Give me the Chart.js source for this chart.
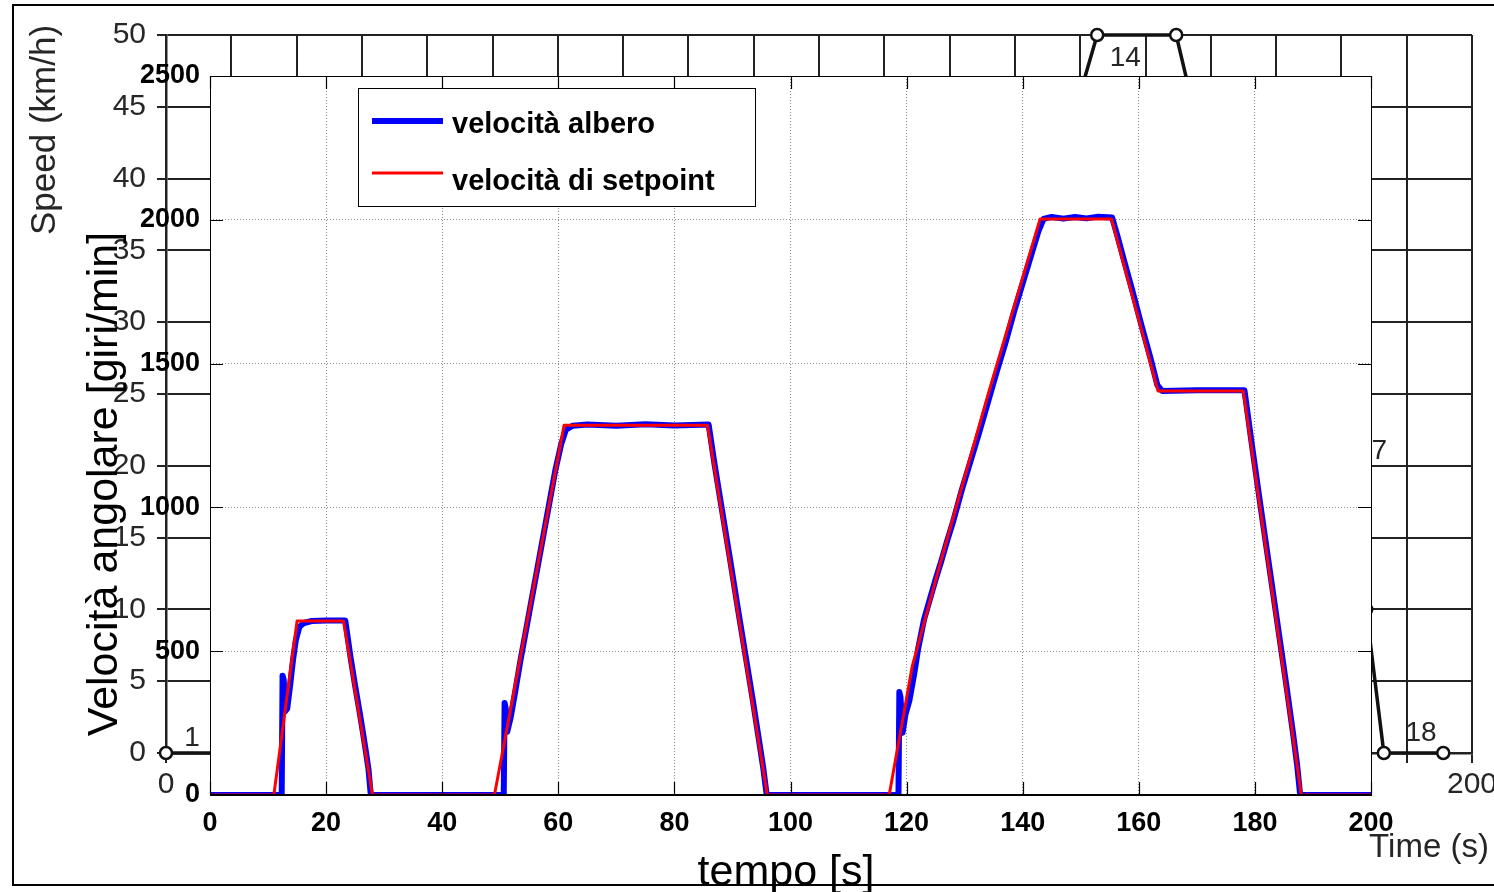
<!DOCTYPE html>
<html><head><meta charset="utf-8">
<script src="https://cdn.jsdelivr.net/npm/chart.js@4.4.1/dist/chart.umd.min.js"></script>
<style>
html,body{margin:0;padding:0;background:#fff;}
#wrap{position:relative;width:1494px;height:892px;overflow:hidden;background:#fff;}
canvas{position:absolute;left:0;top:0;}
#frame{position:absolute;left:12px;top:4px;width:1500px;height:882px;border:2.5px solid #000;box-sizing:border-box;}
</style></head>
<body>
<div id="wrap">
<canvas id="scan" width="1494" height="892"></canvas>
<div id="frame"></div>
<canvas id="main" width="1494" height="892"></canvas>
</div>
<script>
// ---------- background scan: ECE-15 speed cycle ----------
const scanTime  = [0, 11, 15, 23, 25, 28, 49, 54, 56, 61, 85, 93, 96, 117, 122, 124, 133, 142.6, 154.7, 162.5, 176, 178, 183.8, 186.5, 195.6];
const scanSpeed = [0, 0, 15, 15, 10, 0, 0, 15, 15, 32, 32, 10, 0, 0, 15, 15, 35, 50, 50, 35, 35, 32, 10, 0, 0];
const scanTimeLabels = [0, 200];
const scanSegLabels = ['1', '14', '17', '18'];
const scanSegTime   = [4.0, 146.9, 187.0, 192.2];
const scanSegSpeed  = [1.0, 48.4, 21.0, 1.4];

// ---------- overlay: shaft speed ----------
const setpointTime = [0, 11, 15, 23, 28, 49, 61, 85.7, 96, 117, 121, 126, 134, 143, 155.3, 163.3, 178, 188, 200];
const setpointRpm  = [0, 0, 605, 605, 0, 0, 1286, 1286, 0, 0, 450, 820, 1390, 2003, 2003, 1405, 1405, 0, 0];

const shaftTime = [0, 12.35, 12.5, 12.7, 12.9, 13.3, 13.8, 14.3, 14.8, 15.4, 16.2, 17.5, 20, 23.3, 24.2, 25.0, 25.8, 26.4, 26.9, 27.3, 27.7,
  50.6, 50.75, 50.95, 51.2, 51.8, 52.5, 53.5, 54.5, 55.5, 56.5, 57.5, 58.5, 59.5, 60.5, 61.3, 62.5, 65, 70, 75, 80, 85.9,
  86.8, 88, 89.5, 91, 92.5, 93.5, 94.5, 95.3, 95.9,
  118.6, 118.75, 118.95, 119.3, 119.8, 120.5, 121.3, 122, 123, 124, 125, 126, 127, 128, 129.5, 131, 132.5, 134, 135.5, 137, 138.5, 140, 141.5, 142.7, 143.6,
  145, 147, 149, 151, 153, 155.4, 156.3, 157.5, 159, 160.5, 162, 163.2, 164, 170, 178.2,
  179.5, 181, 182.5, 184, 185.5, 186.6, 187.3, 187.8, 200];
const shaftRpm = [0, 0, 415, 400, 290, 300, 380, 470, 540, 585, 598, 605, 607, 607, 480, 380, 285, 210, 145, 90, 0,
  0, 320, 300, 220, 270, 350, 470, 580, 690, 800, 910, 1020, 1130, 1220, 1270, 1284, 1288, 1284, 1289, 1285, 1288,
  1165, 1015, 830, 640, 455, 330, 200, 95, 0,
  0, 358, 340, 216, 280, 330, 420, 510, 610, 680, 750, 815, 885, 950, 1060, 1160, 1260, 1365, 1470, 1570, 1680, 1780, 1880, 1960, 2003,
  2010, 2004, 2010, 2005, 2011, 2008, 1945, 1855, 1745, 1630, 1520, 1425, 1405, 1407, 1407,
  1215, 1000, 790, 580, 370, 210, 100, 0, 0];

const xTicksMain = [0, 20, 40, 60, 80, 100, 120, 140, 160, 180, 200];
const yTicksMain = [0, 500, 1000, 1500, 2000, 2500];

const SANS = "'Liberation Sans', Arial, sans-serif";
const SCANCOL = '#262626';

// ---------------- scan chart ----------------
const scanDeco = {
  id: 'scanDeco',
  afterDraw(chart) {
    const ctx = chart.ctx, xs = chart.scales.x, ys = chart.scales.y;
    ctx.save();
    ctx.fillStyle = SCANCOL;
    ctx.font = '35px ' + SANS;
    ctx.textAlign = 'center';
    ctx.textBaseline = 'middle';
    ctx.save();
    ctx.translate(45, 130);
    ctx.rotate(-Math.PI / 2);
    ctx.fillText('Speed (km/h)', 0, 0);
    ctx.restore();
    ctx.font = '33px ' + SANS;
    ctx.fillText('Time (s)', 1429, 848);
    ctx.font = '28px ' + SANS;
    scanSegLabels.forEach((s, i) => {
      ctx.textAlign = s === '17' ? 'right' : 'center';
      ctx.fillText(s, xs.getPixelForValue(scanSegTime[i]), ys.getPixelForValue(scanSegSpeed[i]));
    });
    ctx.restore();
  }
};

new Chart(document.getElementById('scan'), {
  type: 'line',
  data: { datasets: [{
    data: scanTime.map((t, i) => ({ x: t, y: scanSpeed[i] })),
    borderColor: '#111', borderWidth: 3.5, tension: 0, clip: false,
    pointRadius: 6, pointBackgroundColor: '#fff', pointBorderColor: '#111', pointBorderWidth: 2.5
  }]},
  options: {
    responsive: false, animation: false, devicePixelRatio: 1,
    layout: { padding: { top: 35, right: 22, left: 0, bottom: 0 } },
    plugins: { legend: { display: false }, tooltip: { enabled: false } },
    scales: {
      x: {
        type: 'linear', min: 0, max: 200,
        afterFit(s) { s.height = 139; s.paddingLeft = 0; s.paddingRight = 0; },
        ticks: { stepSize: 10, autoSkip: false, maxRotation: 0, padding: 4, color: SCANCOL,
          font: { family: SANS, size: 30 },
          callback: v => scanTimeLabels.includes(v) ? String(v) : '' },
        grid: { color: '#222', lineWidth: 2, tickLength: 10, drawTicks: true },
        border: { display: true, color: '#222', width: 2.5 }
      },
      y: {
        min: 0, max: 50,
        afterFit(s) { s.width = 166; s.paddingTop = 0; s.paddingBottom = 0; },
        ticks: { stepSize: 5, padding: 11, color: SCANCOL, font: { family: SANS, size: 30 },
          callback: v => String(v) },
        grid: { color: '#222', lineWidth: 2, tickLength: 9, drawTicks: true },
        border: { display: true, color: '#222', width: 2.5 }
      }
    }
  },
  plugins: [scanDeco]
});

// ---------------- main chart ----------------
const mainDeco = {
  id: 'mainDeco',
  beforeDraw(chart) {
    const { ctx, chartArea: a } = chart;
    ctx.save();
    ctx.fillStyle = '#fff';
    ctx.fillRect(a.left, a.top, a.right - a.left, a.bottom - a.top);
    ctx.restore();
  },
  afterDraw(chart) {
    const { ctx, chartArea: a } = chart;
    const xs = chart.scales.x, ys = chart.scales.y;
    ctx.save();
    // frame
    ctx.strokeStyle = '#000';
    ctx.lineWidth = 1;
    ctx.strokeRect(Math.round(a.left) + 0.5, Math.round(a.top) + 0.5, Math.round(a.right - a.left), Math.round(a.bottom - a.top));
    ctx.lineWidth = 2;
    ctx.beginPath(); ctx.moveTo(a.left, a.bottom); ctx.lineTo(a.right + 1, a.bottom); ctx.stroke();
    // inward ticks
    ctx.lineWidth = 1.2;
    const TL = 13;
    ctx.beginPath();
    xs.ticks.forEach(t => {
      const px = Math.round(xs.getPixelForValue(t.value)) + 0.5;
      ctx.moveTo(px, a.bottom); ctx.lineTo(px, a.bottom - TL);
      ctx.moveTo(px, a.top); ctx.lineTo(px, a.top + TL);
    });
    ys.ticks.forEach(t => {
      const py = Math.round(ys.getPixelForValue(t.value)) + 0.5;
      ctx.moveTo(a.left, py); ctx.lineTo(a.left + TL, py);
      ctx.moveTo(a.right, py); ctx.lineTo(a.right - TL, py);
    });
    ctx.stroke();
    // legend
    const lx = 358.5, ly = 88.5, lw = 397, lh = 118;
    ctx.fillStyle = '#fff';
    ctx.fillRect(lx, ly, lw, lh);
    ctx.strokeStyle = '#000'; ctx.lineWidth = 1;
    ctx.strokeRect(lx, ly, lw, lh);
    const rowsLine = [121, 173], rowsText = [133, 190];
    chart.data.datasets.forEach((ds, i) => {
      ctx.strokeStyle = ds.borderColor;
      ctx.lineWidth = i === 0 ? 6 : 3;
      ctx.lineCap = 'butt';
      ctx.beginPath(); ctx.moveTo(372, rowsLine[i]); ctx.lineTo(443, rowsLine[i]); ctx.stroke();
      ctx.fillStyle = '#000';
      ctx.font = 'bold 29px ' + SANS;
      ctx.textAlign = 'left'; ctx.textBaseline = 'alphabetic';
      ctx.fillText(ds.label, 452, rowsText[i]);
    });
    // axis titles
    ctx.fillStyle = '#000';
    ctx.font = '43px ' + SANS;
    ctx.textAlign = 'center'; ctx.textBaseline = 'alphabetic';
    ctx.fillText('tempo [s]', 786, 885);
    ctx.save();
    ctx.translate(117, 484);
    ctx.rotate(-Math.PI / 2);
    ctx.fillText('Velocità angolare [giri/min]', 0, 0);
    ctx.restore();
    ctx.restore();
  }
};

new Chart(document.getElementById('main'), {
  type: 'line',
  data: { datasets: [
    { label: 'velocità albero', data: shaftTime.map((t, i) => ({ x: t, y: shaftRpm[i] })),
      borderColor: '#0000ff', borderWidth: 6, pointRadius: 0, tension: 0, order: 2,
      borderJoinStyle: 'round', borderCapStyle: 'round' },
    { label: 'velocità di setpoint', data: setpointTime.map((t, i) => ({ x: t, y: setpointRpm[i] })),
      borderColor: '#ff0000', borderWidth: 3, pointRadius: 0, tension: 0, order: 1,
      borderJoinStyle: 'round' }
  ]},
  options: {
    responsive: false, animation: false, devicePixelRatio: 1,
    layout: { padding: { top: 76, right: 123, left: 0, bottom: 0 } },
    plugins: { legend: { display: false }, tooltip: { enabled: false } },
    scales: {
      x: {
        type: 'linear', min: 0, max: 200,
        afterFit(s) { s.height = 97; s.paddingLeft = 0; s.paddingRight = 0; },
        afterBuildTicks(s) { s.ticks = xTicksMain.map(v => ({ value: v })); },
        ticks: { padding: 12, color: '#000', maxRotation: 0, autoSkip: false,
          font: { family: SANS, size: 27, weight: 'bold' }, callback: v => String(v) },
        grid: { color: '#8a8a8a', lineWidth: 1, drawTicks: false },
        border: { display: false, dash: [1, 2] }
      },
      y: {
        min: 0, max: 2500,
        afterFit(s) { s.width = 210; s.paddingTop = 0; s.paddingBottom = 0; },
        afterBuildTicks(s) { s.ticks = yTicksMain.map(v => ({ value: v })); },
        ticks: { padding: 10, color: '#000', font: { family: SANS, size: 27, weight: 'bold' },
          callback: v => String(v) },
        grid: { color: '#8a8a8a', lineWidth: 1, drawTicks: false },
        border: { display: false, dash: [1, 2] }
      }
    }
  },
  plugins: [mainDeco]
});
</script>
</body></html>
